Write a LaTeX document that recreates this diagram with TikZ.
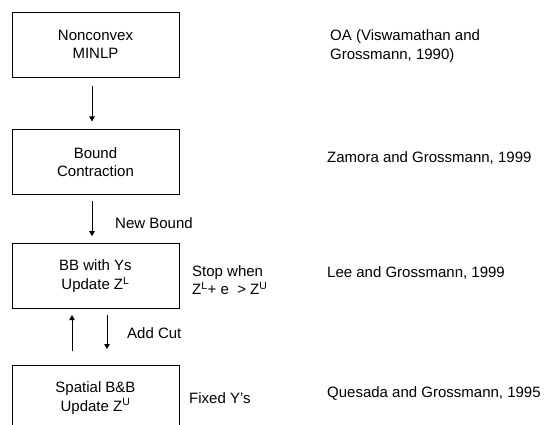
\documentclass[tikz,border=0pt]{standalone}
\usepackage{fontspec}
\setmainfont{Liberation Sans}
\usetikzlibrary{arrows.meta,positioning}
\tikzset{
  stage/.style={draw,line width=0.8pt,minimum width=167pt,minimum height=65pt,
    align=center,inner sep=2pt,font=\fontsize{15}{18.5}\selectfont},
  note/.style={anchor=west,align=left,inner sep=0pt,font=\fontsize{15}{18.5}\selectfont},
  arrow/.style={-{Triangle[length=5pt,width=5.5pt]},line width=0.8pt}
}
\begin{document}
\begin{tikzpicture}[x=1pt,y=-1pt]
\clip (0,0) rectangle (548,425);
% stages
\node[stage] (minlp) at (95.5,44.5) {Nonconvex\\MINLP};
\node[stage,below=52pt of minlp] (contract) {Bound\\Contraction};
\node[stage,below=48pt of contract] (bbys) {BB with Ys\\Update Z\textsuperscript{L}};
\node[stage,below=56pt of bbys] (spatial) {Spatial B\&B\\Update Z\textsuperscript{U}};
% connectors
\draw[arrow] ([xshift=-3.5pt,yshift=-9pt]minlp.south) -- ([xshift=-3.5pt,yshift=8pt]contract.north);
\draw[arrow] ([xshift=-3.5pt,yshift=-6pt]contract.south) -- ([xshift=-3.5pt,yshift=7pt]bbys.north);
\draw[arrow] ([xshift=-23.5pt,yshift=14pt]spatial.north) -- ([xshift=-23.5pt,yshift=-6pt]bbys.south);
\draw[arrow] ([xshift=11.5pt,yshift=-6pt]bbys.south) -- ([xshift=11.5pt,yshift=16pt]spatial.north);
% side labels
\node[note] (newbound) at (115,223) {New Bound};
\node[note] (addcut) at (127,333) {Add Cut};
\node[note] (stopwhen) at (192,280) {Stop when\\Z\textsuperscript{L}+ e\ \ > Z\textsuperscript{U}};
\node[note] (fixedy) at (189,398) {Fixed Y's};
% references
\node[note] (refoa) at (330,46) {OA (Viswamathan and\\Grossmann, 1990)};
\node[note] (refzg) at (327,158) {Zamora and Grossmann, 1999};
\node[note] (reflg) at (327,273) {Lee and Grossmann, 1999};
\node[note] (refqg) at (327,393) {Quesada and Grossmann, 1995};
\end{tikzpicture}
\end{document}
